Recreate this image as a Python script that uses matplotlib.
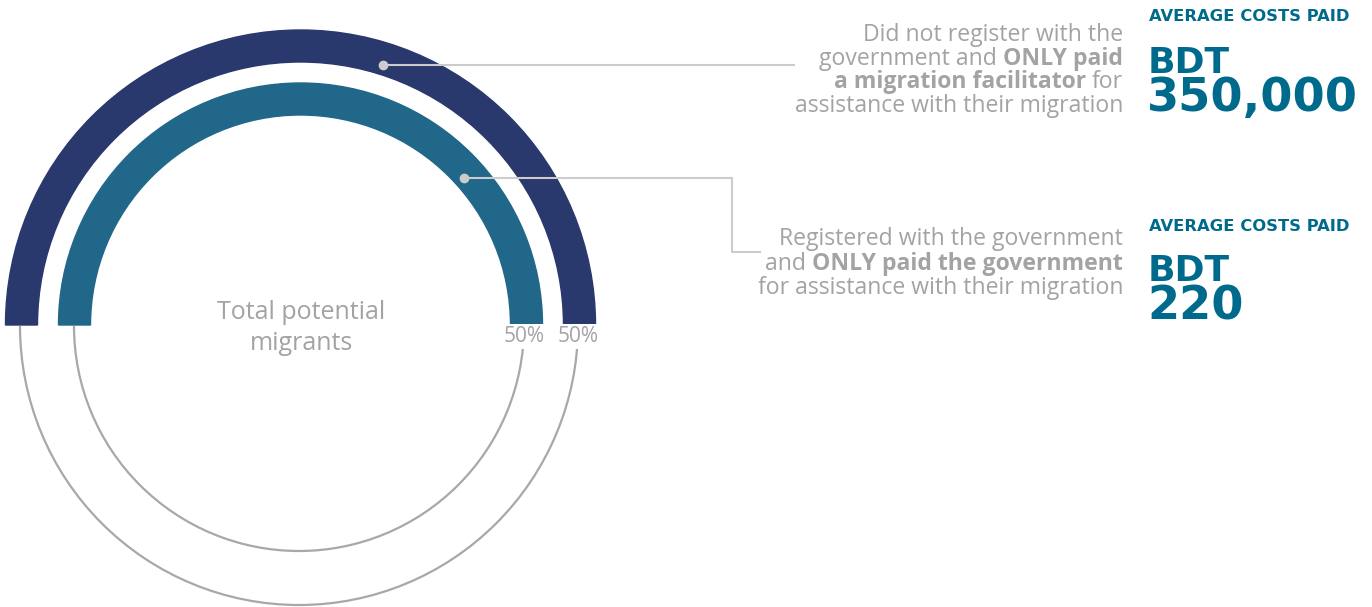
import matplotlib

matplotlib.use("Agg")
import matplotlib.pyplot as plt
from matplotlib.patches import Arc, Wedge

# data
SHARES = [50, 50]  # outer ring, inner ring (% of total potential migrants)
COSTS = ["350,000", "220"]
CURRENCY = "BDT"
COST_HEADING = "AVERAGE COSTS PAID"
CENTER_LABEL = ["Total potential", "migrants"]
DESCRIPTIONS = [
    [
        [("Did not register with the", False)],
        [("government and", False), ("ONLY paid", True)],
        [("a migration facilitator", True), ("for", False)],
        [("assistance with their migration", False)],
    ],
    [
        [("Registered with the government", False)],
        [("and", False), ("ONLY paid the government", True)],
        [("for assistance with their migration", False)],
    ],
]

NAVY = "#29386d"
TEAL = "#21678a"
TEXT_TEAL = "#006a8d"
GREY_TEXT = "#a3a3a3"
GREY_RING = "#a8a8a8"
LEADER = "#cccccc"
BODY_FONT = ["Open Sans", "DejaVu Sans"]
NUM_FONT = ["DejaVu Sans"]
BODY_SIZE = 16.6

W, H = 1372, 607
fig = plt.figure(figsize=(W / 100, H / 100), dpi=100)
ax = fig.add_axes([0, 0, 1, 1])
ax.set_xlim(0, W)
ax.set_ylim(H, 0)
ax.axis("off")
renderer = fig.canvas.get_renderer()

# rings: (band outer radius, band width, grey circle radius)
center = (300.5, 325)
grey_center = (299, 326)
rings = [(295, 32, 279), (242, 32, 225)]
colors = [NAVY, TEAL]

for share, (r, w, gr), color in zip(SHARES, rings, colors):
    extent = share / 100 * 360
    ax.add_patch(
        Arc(grey_center, 2 * gr, 2 * gr, theta1=(180 + extent) % 360, theta2=180,
            color=GREY_RING, lw=1.6, zorder=1)
    )
    ax.add_patch(Wedge(center, r, 180, 180 + extent, width=w, color=color, zorder=2))
    ax.text(
        grey_center[0] + gr, 342, f"{share}%", ha="center", va="baseline",
        fontsize=15, color=GREY_TEXT, family=BODY_FONT, zorder=3,
        bbox=dict(facecolor="white", edgecolor="none", pad=1.5),
    )

ax.text(301, 319, CENTER_LABEL[0], ha="center", va="baseline", fontsize=18,
        color=GREY_TEXT, family=BODY_FONT)
ax.text(301, 350, CENTER_LABEL[1], ha="center", va="baseline", fontsize=18,
        color=GREY_TEXT, family=BODY_FONT)

# leader lines
ax.plot([383, 794], [65, 65], color=LEADER, lw=1.5, zorder=4)
ax.plot([383], [65], "o", ms=6, color=LEADER, zorder=5)
ax.plot([464, 732, 732, 760], [178, 178, 252, 252], color=LEADER, lw=1.5, zorder=4)
ax.plot([464], [178], "o", ms=6, color=LEADER, zorder=5)


def text_width(s, weight):
    t = ax.text(0, 0, s, fontsize=BODY_SIZE, family=BODY_FONT, fontweight=weight)
    wd = t.get_window_extent(renderer).width
    t.remove()
    return wd


space = text_width("a a", "normal") - text_width("aa", "normal")


def rich_line(x_right, y, parts):
    x = x_right
    for s, bold in reversed(parts):
        t = ax.text(x, y, s, ha="right", va="baseline", fontsize=BODY_SIZE,
                    family=BODY_FONT, color=GREY_TEXT,
                    fontweight="bold" if bold else "normal")
        x -= t.get_window_extent(renderer).width + space


baselines = [[41, 64.7, 88.4, 112], [245, 269.5, 294]]
for lines, ys in zip(DESCRIPTIONS, baselines):
    for parts, y in zip(lines, ys):
        rich_line(1123, y, parts)

# cost blocks
cost_y = [(21, 73, 111), (231, 281, 320)]
for cost, (yh, yc, yn) in zip(COSTS, cost_y):
    ax.text(1149, yh, COST_HEADING, ha="left", va="baseline", fontsize=11.8,
            fontweight="bold", color=TEXT_TEAL, family=NUM_FONT)
    ax.text(1148, yc, CURRENCY, ha="left", va="baseline", fontsize=26,
            fontweight="bold", color=TEXT_TEAL, family=NUM_FONT)
    ax.text(1147, yn, cost, ha="left", va="baseline", fontsize=33.3,
            fontweight="bold", color=TEXT_TEAL, family=NUM_FONT)

fig.savefig("out.png", dpi=100)
